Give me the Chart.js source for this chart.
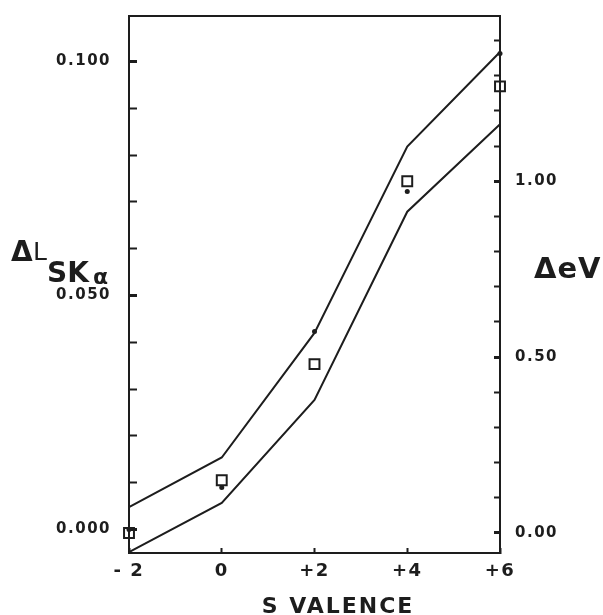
<!DOCTYPE html>
<html>
<head>
<meta charset="utf-8">
<title>S valence shift</title>
<script src="https://cdn.jsdelivr.net/npm/chart.js@4/dist/chart.umd.min.js"></script>
<style>
  html, body { margin: 0; padding: 0; background: #fff; }
  #chart-wrap { width: 603px; height: 615px; }
</style>
</head>
<body>
<div id="chart-wrap"><canvas id="valence-chart" width="603" height="615"></canvas></div>
<script>
// Values
const valence = [-2, 0, 2, 4, 6];
const upperLine = [0.0048, 0.0154, 0.0420, 0.0818, 0.1020];
const lowerLine = [-0.0048, 0.0057, 0.0277, 0.0679, 0.0866];
const shiftL = [0.0000, 0.0090, 0.0423, 0.0722, 0.1017];   // dots, left axis
const shiftEV = [0.00, 0.15, 0.48, 1.00, 1.27];            // squares, right axis

// Axis ticks
const xTicks = [-2, 0, 2, 4, 6];
const xTickLabels = ['- 2', '0', '+2', '+4', '+6'];
const leftTicks = [0, 0.01, 0.02, 0.03, 0.04, 0.05, 0.06, 0.07, 0.08, 0.09, 0.10];
const leftLabelled = [0, 0.05, 0.10];
const rightTicks = [0, 0.1, 0.2, 0.3, 0.4, 0.5, 0.6, 0.7, 0.8, 0.9, 1.0, 1.1, 1.2, 1.3, 1.4];
const rightLabelled = [0, 0.5, 1.0];

const INK = '#1d1d1d';
const FONT = '"DejaVu Sans", sans-serif';

document.addEventListener('DOMContentLoaded', function() {
  initChart();
});

function toPoints(ys) {
  return valence.map((x, i) => ({ x: x, y: ys[i] }));
}

function isIn(list, v) {
  return list.some(t => Math.abs(t - v) < 1e-9);
}

// Replace the generated ticks by a fixed list
function fixedTicks(values) {
  return function(scale) {
    scale.ticks = values.map(v => ({ value: v }));
  };
}

// Fixed axis box, no extra room for overhanging labels
function fixSize(size) {
  return function(scale) {
    if (scale.isHorizontal()) {
      scale.height = size;
    } else {
      scale.width = size;
    }
    scale.paddingTop = 0;
    scale.paddingBottom = 0;
    scale.paddingLeft = 0;
    scale.paddingRight = 0;
  };
}

// Wide lettering, like the original plot
const spacingPlugin = {
  id: 'spacing',
  beforeDraw(chart) {
    chart.ctx.letterSpacing = '1.5px';
  }
};

// Axis titles sit at free positions, so they are drawn here
const titlePlugin = {
  id: 'titles',
  afterDraw(chart) {
    const ctx = chart.ctx;
    ctx.save();
    ctx.fillStyle = INK;
    ctx.textBaseline = 'alphabetic';
    ctx.textAlign = 'left';
    ctx.letterSpacing = '0px';

    ctx.font = 'bold 28px ' + FONT;
    ctx.fillText('Δ', 11, 261);
    ctx.font = '25px ' + FONT;
    ctx.fillText('L', 33, 260);
    ctx.font = 'bold 28px ' + FONT;
    ctx.fillText('SK', 47, 282);
    ctx.font = 'bold 22px ' + FONT;
    ctx.fillText('α', 93, 284);

    ctx.font = 'bold 29px ' + FONT;
    ctx.letterSpacing = '1px';
    ctx.fillText('ΔeV', 534, 278);

    ctx.font = 'bold 22px ' + FONT;
    ctx.letterSpacing = '2px';
    ctx.textAlign = 'center';
    ctx.fillText('S VALENCE', 338, 613);
    ctx.restore();
  }
};

function initChart() {
  const ctx = document.getElementById('valence-chart').getContext('2d');

  new Chart(ctx, {
    type: 'scatter',
    data: {
      datasets: [{
        label: 'ΔL dots',
        data: toPoints(shiftL),
        yAxisID: 'y',
        pointRadius: 2.5,
        pointBackgroundColor: INK,
        pointBorderWidth: 0,
        clip: false
      }, {
        label: 'ΔeV squares',
        data: toPoints(shiftEV),
        yAxisID: 'y1',
        pointStyle: 'rect',
        pointRadius: 7,
        pointBackgroundColor: 'rgba(255,255,255,0)',
        pointBorderColor: INK,
        pointBorderWidth: 2,
        clip: false
      }, {
        label: 'upper',
        data: toPoints(upperLine),
        yAxisID: 'y',
        showLine: true,
        borderColor: INK,
        borderWidth: 2,
        pointRadius: 0,
        tension: 0
      }, {
        label: 'lower',
        data: toPoints(lowerLine),
        yAxisID: 'y',
        showLine: true,
        borderColor: INK,
        borderWidth: 2,
        pointRadius: 0,
        tension: 0,
        clip: false
      }]
    },
    options: {
      responsive: false,
      devicePixelRatio: 1,
      animation: false,
      layout: { padding: 0 },
      plugins: {
        legend: { display: false },
        tooltip: { enabled: false }
      },
      scales: {
        x: {
          type: 'linear',
          position: 'bottom',
          min: -2,
          max: 6,
          afterBuildTicks: fixedTicks(xTicks),
          afterFit: fixSize(62),
          border: { display: true, color: INK, width: 2 },
          grid: { drawOnChartArea: false, tickLength: -5, tickWidth: 2, tickColor: INK },
          ticks: {
            padding: 13,
            color: INK,
            font: { family: FONT, size: 18, weight: 'bold' },
            callback: (value, index) => xTickLabels[index]
          }
        },
        x2: {
          type: 'linear',
          position: 'top',
          min: -2,
          max: 6,
          afterFit: fixSize(16),
          border: { display: true, color: INK, width: 2 },
          grid: { display: false },
          ticks: { display: false }
        },
        y: {
          type: 'linear',
          position: 'left',
          min: -0.005,
          max: 0.1097,
          afterBuildTicks: fixedTicks(leftTicks),
          afterFit: fixSize(129),
          border: { display: true, color: INK, width: 2 },
          grid: {
            drawOnChartArea: false,
            tickLength: -8,
            tickColor: INK,
            tickWidth: c => isIn(leftLabelled, c.tick.value) ? 3 : 2
          },
          ticks: {
            padding: 26,
            color: INK,
            font: { family: FONT, size: 15, weight: 'bold' },
            callback: v => isIn(leftLabelled, v) ? v.toFixed(3) : ''
          }
        },
        y1: {
          type: 'linear',
          position: 'right',
          min: -0.057,
          max: 1.47,
          afterBuildTicks: fixedTicks(rightTicks),
          afterFit: fixSize(103),
          border: { display: true, color: INK, width: 2 },
          grid: {
            drawOnChartArea: false,
            tickLength: -6,
            tickColor: INK,
            tickWidth: c => isIn(rightLabelled, c.tick.value) ? 3 : 2
          },
          ticks: {
            padding: 21,
            color: INK,
            font: { family: FONT, size: 15, weight: 'bold' },
            callback: v => isIn(rightLabelled, v) ? v.toFixed(2) : ''
          }
        }
      }
    },
    plugins: [spacingPlugin, titlePlugin]
  });
}
</script>
</body>
</html>
